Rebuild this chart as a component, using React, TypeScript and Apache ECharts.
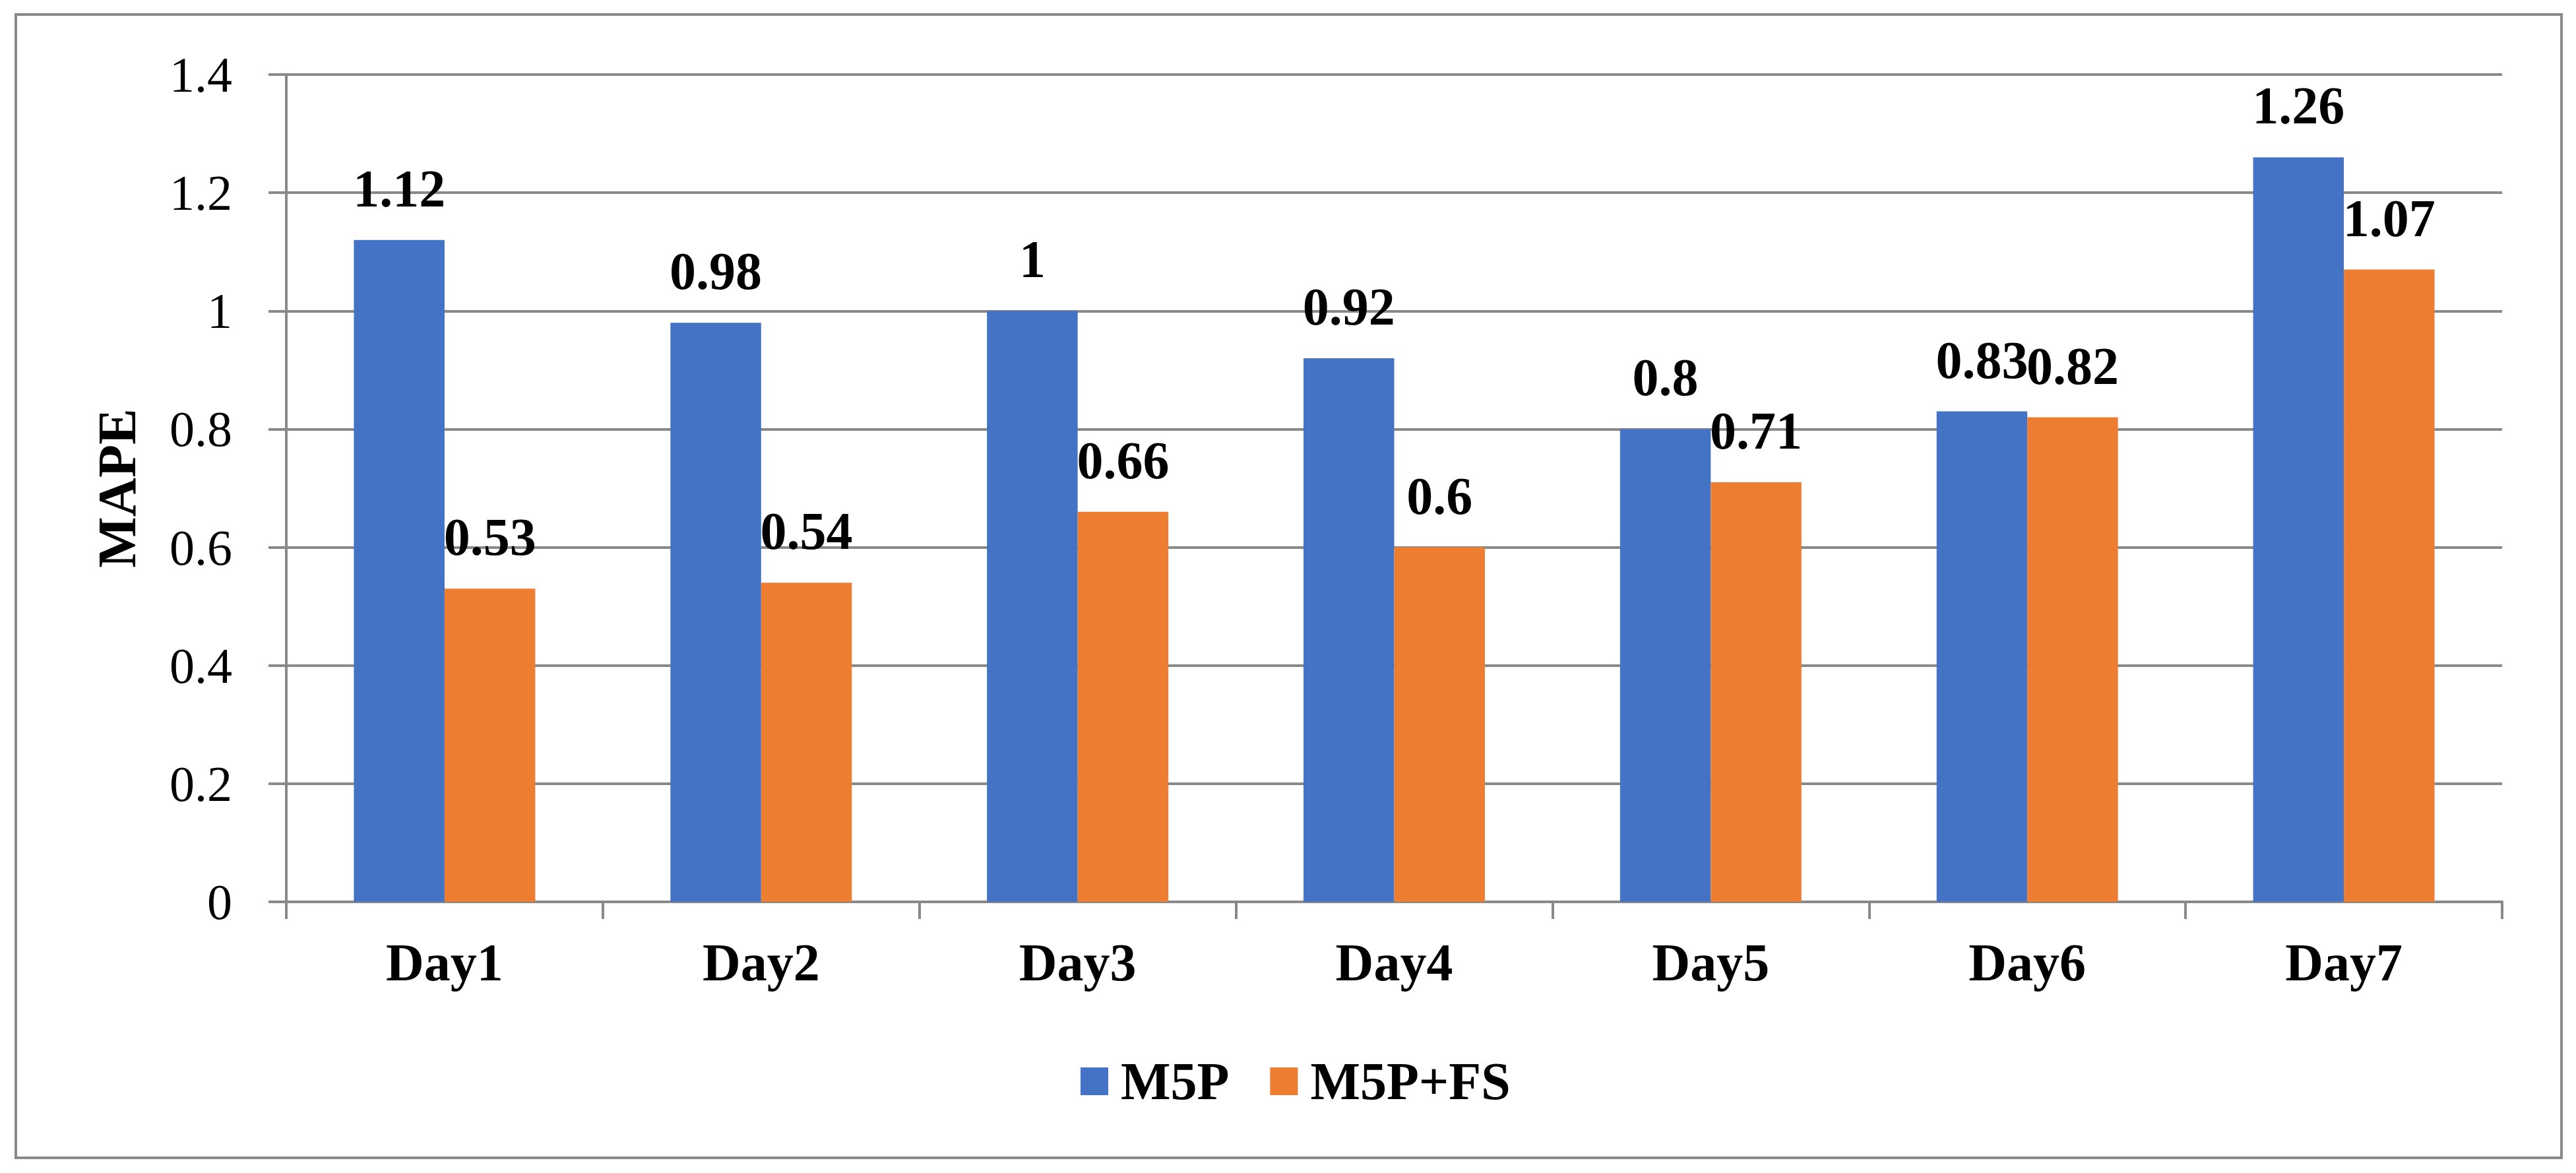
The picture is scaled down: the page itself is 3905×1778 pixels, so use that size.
import React, { useEffect, useRef } from "react";
import * as echarts from "echarts";

const categories = ["Day1", "Day2", "Day3", "Day4", "Day5", "Day6", "Day7"];
const m5p = [1.12, 0.98, 1, 0.92, 0.8, 0.83, 1.26];
const m5pFs = [0.53, 0.54, 0.66, 0.6, 0.71, 0.82, 1.07];
const seriesNames = ["M5P", "M5P+FS"];
const yTickLabels = ["0", "0.2", "0.4", "0.6", "0.8", "1", "1.2", "1.4"];
const yAxisName = "MAPE";

const FONT = "'Liberation Serif', 'Times New Roman', serif";
const GRAY = "#898989";

export default function App() {
  const ref = useRef<HTMLDivElement>(null);
  useEffect(() => {
    if (!ref.current) return;
    const chart = echarts.init(ref.current, null, { renderer: "svg" });
    const labelStyle = {
      show: true,
      position: "top",
      distance: 38,
      fontFamily: FONT,
      fontWeight: "bold",
      fontSize: 80,
      color: "#000",
    };
    chart.setOption({
      animation: false,
      backgroundColor: "#fff",
      graphic: [
        {
          type: "rect",
          shape: { x: 24, y: 22, width: 3859, height: 1733 },
          style: { fill: "none", stroke: GRAY, lineWidth: 4 },
          silent: true,
        },
      ],
      grid: { left: 434, right: 112, top: 113, bottom: 411, containLabel: false },
      legend: {
        data: seriesNames,
        left: 1633,
        top: 1594,
        itemWidth: 42,
        itemHeight: 42,
        itemGap: 62,
        icon: "rect",
        selectedMode: false,
        textStyle: {
          fontFamily: FONT,
          fontWeight: "bold",
          fontSize: 80,
          color: "#000",
          padding: [0, 0, 0, 14],
        },
      },
      xAxis: {
        type: "category",
        data: categories,
        axisLine: { show: true, lineStyle: { color: GRAY, width: 4 } },
        axisTick: { show: true, length: 26, lineStyle: { color: GRAY, width: 4 } },
        axisLabel: {
          margin: 52,
          fontFamily: FONT,
          fontWeight: "bold",
          fontSize: 80,
          color: "#000",
        },
      },
      yAxis: {
        type: "value",
        min: 0,
        max: 1.4,
        interval: 0.2,
        name: yAxisName,
        nameLocation: "middle",
        nameRotate: 90,
        nameGap: 216,
        nameTextStyle: {
          fontFamily: FONT,
          fontWeight: "bold",
          fontSize: 82,
          color: "#000",
        },
        axisLine: { show: true, lineStyle: { color: GRAY, width: 4 } },
        axisTick: { show: true, length: 27, lineStyle: { color: GRAY, width: 4 } },
        splitLine: { show: true, lineStyle: { color: GRAY, width: 4 } },
        axisLabel: {
          margin: 82,
          fontFamily: FONT,
          fontSize: 76,
          color: "#000",
          formatter: (v: number) => yTickLabels[Math.round(v / 0.2)] ?? String(v),
        },
      },
      series: [
        {
          name: seriesNames[0],
          type: "bar",
          data: m5p,
          barGap: "0%",
          barCategoryGap: "42.7%",
          itemStyle: { color: "#4472C4" },
          label: labelStyle,
        },
        {
          name: seriesNames[1],
          type: "bar",
          data: m5pFs,
          barGap: "0%",
          barCategoryGap: "42.7%",
          itemStyle: { color: "#ED7D31" },
          label: labelStyle,
        },
      ],
    });
    return () => chart.dispose();
  }, []);
  return (
    <div
      ref={ref}
      style={{ position: "fixed", left: 0, top: 0, width: 3905, height: 1778, background: "#fff" }}
    />
  );
}
